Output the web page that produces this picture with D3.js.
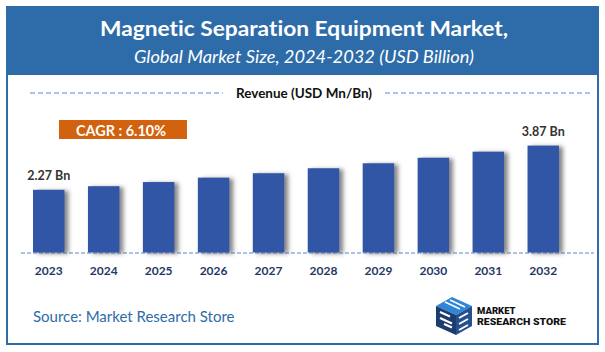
<!DOCTYPE html>
<html>
  <head>
    <meta charset="utf-8">
    <title>Magnetic Separation Equipment Market</title>
    <script src="https://cdn.jsdelivr.net/npm/d3@7"></script>
    <style>
      body { margin: 0; background: #fff; }
      svg { display: block; font-family: Lato, "Open Sans", sans-serif; font-variant-ligatures: none; }
    </style>
  </head>

  <body>
    <svg id="chart" width="605" height="352"></svg>

    <script>
      // data
      years = ["2023", "2024", "2025", "2026", "2027", "2028", "2029", "2030", "2031", "2032"];
      revenue = [2.27, 2.40, 2.55, 2.71, 2.87, 3.05, 3.23, 3.43, 3.65, 3.87];
      valueLabels = {"2023": "2.27 Bn", "2032": "3.87 Bn"};
      title = "Magnetic Separation Equipment Market,";
      subtitle = "Global Market Size, 2024-2032 (USD Billion)";
      cagr = "CAGR : 6.10%";

      // elements
      chart = d3.select("#chart");
      width = 605;
      height = 352;
      blue = "#2e6ca9";

      // bar shadow
      defs = chart.append("defs");
      defs.append("filter")
          .attr("id", "shadow")
          .attr("x", "-20%").attr("y", "-10%")
          .attr("width", "160%").attr("height", "120%")
        .append("feDropShadow")
          .attr("dx", 4).attr("dy", 1)
          .attr("stdDeviation", 2)
          .attr("flood-color", "#555")
          .attr("flood-opacity", 0.7);

      // frame and header
      chart.append("rect")
        .attr("x", 7).attr("y", 7)
        .attr("width", 591).attr("height", 337)
        .attr("fill", "#fff")
        .attr("stroke", blue)
        .attr("stroke-width", 2);

      chart.append("rect")
        .attr("x", 7).attr("y", 7)
        .attr("width", 591).attr("height", 68)
        .attr("fill", blue);

      fitText(chart.append("text")
          .attr("x", 304).attr("y", 36)
          .attr("text-anchor", "middle")
          .attr("fill", "#fff")
          .attr("font-weight", 700)
          .attr("font-size", 21)
          .text(title), 408);

      fitText(chart.append("text")
          .attr("x", 304).attr("y", 63)
          .attr("text-anchor", "middle")
          .attr("fill", "#fff")
          .attr("font-style", "italic")
          .attr("font-size", 18)
          .text(subtitle), 340);

      // revenue caption with dashes either side
      chart.append("line")
        .attr("x1", 30).attr("x2", 223)
        .attr("y1", 93).attr("y2", 93)
        .attr("stroke", "#4f86d6")
        .attr("stroke-dasharray", "5,3");
      chart.append("line")
        .attr("x1", 385).attr("x2", 592)
        .attr("y1", 93).attr("y2", 93)
        .attr("stroke", "#4f86d6")
        .attr("stroke-dasharray", "5,3");
      fitText(chart.append("text")
          .attr("x", 304).attr("y", 97.5)
          .attr("text-anchor", "middle")
          .attr("fill", "#111")
          .attr("font-weight", 700)
          .attr("font-size", 13)
          .text("Revenue (USD Mn/Bn)"), 136);

      // CAGR badge
      chart.append("rect")
        .attr("x", 59).attr("y", 120)
        .attr("width", 128).attr("height", 19)
        .attr("fill", "#d2620e");
      fitText(chart.append("text")
          .attr("x", 121).attr("y", 135.5)
          .attr("text-anchor", "middle")
          .attr("fill", "#fff")
          .attr("font-weight", 700)
          .attr("font-size", 15)
          .text(cagr), 90);

      // scales
      scaleX = d3.scaleBand()
        .domain(years)
        .range([33, 559])
        .paddingInner(.427)
        .paddingOuter(0);

      scaleY = d3.scaleLinear()
        .domain([0, 4])
        .range([252.5, 142]);

      // baseline
      chart.append("line")
        .attr("x1", 21).attr("x2", 594)
        .attr("y1", 253).attr("y2", 253)
        .attr("stroke", "#8eaee0")
        .attr("stroke-width", 1.5)
        .attr("stroke-dasharray", "4,2");

      // bars
      chart.append("g")
        .selectAll("rect")
          .data(years)
        .enter().append("rect")
          .attr("x", d => scaleX(d))
          .attr("y", (d, i) => scaleY(revenue[i]))
          .attr("width", scaleX.bandwidth())
          .attr("height", (d, i) => scaleY(0) - scaleY(revenue[i]))
          .attr("fill", "#3257a6")
          .attr("filter", "url(#shadow)");

      // value labels
      chart.append("g")
        .selectAll("text")
          .data(years.filter(d => valueLabels[d]))
        .enter().append("text")
          .attr("x", d => scaleX(d) + scaleX.bandwidth() / 2)
          .attr("y", d => scaleY(revenue[years.indexOf(d)]) - 9.5)
          .attr("text-anchor", "middle")
          .attr("fill", "#333")
          .attr("font-weight", 700)
          .attr("font-size", 12.5)
          .text(d => valueLabels[d]);

      // x axis
      axisX = d3.axisBottom(scaleX)
        .tickSize(0)
        .tickPadding(13);
      xAxisGroup = chart.append("g")
        .attr("transform", "translate(0, 253)")
        .call(axisX);
      xAxisGroup.select(".domain").remove();
      xAxisGroup.selectAll("text")
        .attr("font-family", "Lato, sans-serif")
        .attr("font-size", 12)
        .attr("font-weight", 700)
        .attr("fill", "#1f3864");

      // source
      fitText(chart.append("text")
          .attr("x", 33).attr("y", 322)
          .attr("fill", "#2e6ca9")
          .attr("font-size", 15)
          .text("Source: Market Research Store"), 201);

      // logo
      logo = chart.append("g")
        .attr("transform", "translate(430, 297)");
      logo.append("path")
        .attr("d", "M6,9 L22,0 L42,9 L26,18 Z")
        .attr("fill", "#2f86d9");
      logo.append("path")
        .attr("d", "M6,9 L26,18 L26,38 L6,29 Z")
        .attr("fill", "#1d3c6e");
      logo.append("path")
        .attr("d", "M26,18 L42,9 L42,29 L26,38 Z")
        .attr("fill", "#24508f");
      logo.append("path")
        .attr("d", "M10,15 L20,19.5 M10,21 L22,26.5 M14,27 L22,30.5 M29,21 L38,16 M29,27 L38,22 M29,33 L38,28")
        .attr("stroke", "#fff")
        .attr("stroke-width", 2);
      logo.append("path")
        .attr("d", "M15,5 L30,12 M20,3 L35,10")
        .attr("stroke", "#fff")
        .attr("stroke-width", 1.5);
      fitText(logo.append("text")
          .attr("x", 47).attr("y", 17)
          .attr("fill", "#111")
          .attr("font-family", "Roboto, sans-serif")
          .attr("font-weight", 900)
          .attr("font-size", 9.5)
          .text("MARKET"), 40);
      fitText(logo.append("text")
          .attr("x", 47).attr("y", 28)
          .attr("fill", "#111")
          .attr("font-family", "Roboto, sans-serif")
          .attr("font-weight", 900)
          .attr("font-size", 9.5)
          .text("RESEARCH STORE"), 89);

      // squeeze a text to a target width
      function fitText(sel, target) {
        let w = sel.node().getComputedTextLength();
        if (Math.abs(w - target) > 2) {
          sel.attr("textLength", target)
            .attr("lengthAdjust", "spacingAndGlyphs");
        }
        return sel;
      }
    </script>
  </body>
</html>
